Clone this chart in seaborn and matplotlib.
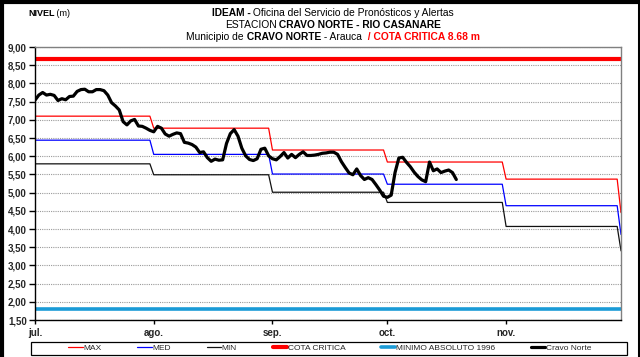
import matplotlib
matplotlib.use("Agg")
import matplotlib.pyplot as plt
from matplotlib.ticker import FuncFormatter, MultipleLocator
from matplotlib.patches import Rectangle
from matplotlib.lines import Line2D
import pandas as pd
import seaborn as sns

# ---- data -------------------------------------------------------------
month_labels = ["jul.", "ago.", "sep.", "oct.", "nov."]
level_dates = ["2010-07-01", "2010-08-01", "2010-09-01", "2010-10-01",
               "2010-11-01", "2010-12-01"]
max_level = [7.10, 6.77, 6.17, 5.84, 5.37, 4.45]
med_level = [6.44, 6.05, 5.51, 5.23, 4.64, 3.85]
min_level = [5.79, 5.49, 5.01, 4.73, 4.07, 3.40]
cota_critica = 8.68
minimo_1996 = 1.80

# daily stage at Cravo Norte (m), starting 1 July
cravo_norte = [
    7.54, 7.68, 7.75, 7.68, 7.70, 7.67, 7.53, 7.58, 7.55, 7.64,
    7.65, 7.78, 7.83, 7.84, 7.77, 7.77, 7.83, 7.83, 7.80, 7.68,
    7.47, 7.38, 7.27, 6.95, 6.86, 6.97, 7.01, 6.83, 6.82, 6.77,
    6.71, 6.67, 6.82, 6.77, 6.61, 6.55, 6.60, 6.64, 6.62, 6.38,
    6.36, 6.32, 6.25, 6.10, 6.12, 5.96, 5.86, 5.92, 5.89, 5.90,
    6.35, 6.62, 6.73, 6.55, 6.22, 6.01, 5.91, 5.88, 5.93, 6.19,
    6.22, 6.01, 5.93, 5.90, 5.99, 6.10, 5.95, 6.05, 5.96, 6.05,
    6.12, 6.02, 6.02, 6.03, 6.05, 6.08, 6.09, 6.11, 6.11, 6.05,
    5.85, 5.69, 5.54, 5.49, 5.65, 5.47, 5.36, 5.41, 5.36, 5.22,
    5.07, 4.90, 4.87, 4.93, 5.55, 5.95, 5.97, 5.83, 5.71, 5.56,
    5.44, 5.35, 5.30, 5.84, 5.60, 5.65, 5.55, 5.59, 5.62, 5.55,
    5.36,
]

# ---- frames -----------------------------------------------------------
days = pd.date_range(level_dates[0], level_dates[-1], freq="D")


def monthly_steps(levels):
    s = pd.Series(levels, index=pd.to_datetime(level_dates))
    return pd.DataFrame({"fecha": days,
                         "nivel": s.reindex(days, method="ffill").values})


df_max = monthly_steps(max_level)
df_med = monthly_steps(med_level)
df_min = monthly_steps(min_level)
df_obs = pd.DataFrame({"fecha": days[:len(cravo_norte)], "nivel": cravo_norte})

# ---- style ------------------------------------------------------------
sns.set_style("white")
plt.rcParams["font.family"] = ["Liberation Sans", "DejaVu Sans"]

fig = plt.figure(figsize=(6.4, 3.57), dpi=100)
ax = fig.add_axes([35 / 640, 1 - 320 / 357, 586 / 640, 273 / 357])

ax.yaxis.grid(True, color="#9a9a9a", linestyle=(0, (1, 1)), linewidth=0.8)
ax.set_axisbelow(True)

sns.lineplot(data=df_max, x="fecha", y="nivel", ax=ax, color="#ff0000",
             linewidth=0.9, label="MAX")
sns.lineplot(data=df_med, x="fecha", y="nivel", ax=ax, color="#0000ff",
             linewidth=0.9, label="MED")
sns.lineplot(data=df_min, x="fecha", y="nivel", ax=ax, color="#111111",
             linewidth=0.9, label="MIN")
ax.axhline(cota_critica, color="#ff0000", linewidth=3.0, label="COTA CRITICA")
ax.axhline(minimo_1996, color="#1a9bd7", linewidth=2.6,
           label="MINIMO ABSOLUTO 1996")
sns.lineplot(data=df_obs, x="fecha", y="nivel", ax=ax, color="black",
             linewidth=2.3, label="Cravo Norte", zorder=5)

ax.set_xlim(days[0], days[-1])
ax.set_ylim(1.5, 9.0)
ax.yaxis.set_major_locator(MultipleLocator(0.5))
ax.yaxis.set_major_formatter(FuncFormatter(lambda v, p: f"{v:.2f}".replace(".", ",")))
ax.set_xticks(pd.to_datetime(level_dates[:5]))
ax.set_xticklabels(month_labels)
ax.set_xlabel("")
ax.set_ylabel("")

ax.tick_params(axis="y", direction="out", length=4, width=1, color="black",
               labelsize=7, pad=2, left=True)
ax.tick_params(axis="x", direction="out", length=3, width=1, color="black",
               labelsize=7, pad=3, bottom=True)
for lbl in ax.get_xticklabels() + ax.get_yticklabels():
    lbl.set_fontweight("bold")

for side in ("left", "bottom"):
    ax.spines[side].set_color("black")
    ax.spines[side].set_linewidth(1.0)
for side in ("top", "right"):
    ax.spines[side].set_color("#808080")
    ax.spines[side].set_linewidth(1.0)

# ---- legend -----------------------------------------------------------
handles, labels = ax.get_legend_handles_labels()
ax.get_legend().remove()
fig.legend(handles, labels, ncol=6, loc="center",
           bbox_to_anchor=(330 / 640, 1 - 348 / 357),
           bbox_transform=fig.transFigure, frameon=False,
           prop={"size": 6}, handlelength=1.7, handletextpad=0.1,
           columnspacing=4.3)
fig.patches.append(Rectangle((31 / 640, 2 / 357), 596 / 640, 13.5 / 357,
                             transform=fig.transFigure, fill=False,
                             edgecolor="black", linewidth=0.9))

# ---- outer border -----------------------------------------------------
for xs, ys, lw in [([2 / 640, 2 / 640], [0, 1], 3.0),
                   ([0, 1], [1 - 2 / 357, 1 - 2 / 357], 3.0),
                   ([638.5 / 640, 638.5 / 640], [0, 1], 2.2)]:
    fig.lines.append(Line2D(xs, ys, transform=fig.transFigure,
                            color="black", linewidth=lw))

# ---- headings with mixed styles ---------------------------------------
fig.canvas.draw()
renderer = fig.canvas.get_renderer()


def rich_line(y_px, pieces, x_px, ha="center", size=7.4):
    arts = []
    for s, weight, color in pieces:
        arts.append(fig.text(0, 1 - y_px / 357, s, fontsize=size,
                             fontweight=weight, color=color,
                             va="center", ha="left"))
    widths = [a.get_window_extent(renderer).width for a in arts]
    start = x_px - sum(widths) / 2 if ha == "center" else x_px
    for a, w in zip(arts, widths):
        a.set_x(start / 640)
        start += w


rich_line(13, [("NIVEL", "bold", "black"), (" (m)", "normal", "black")],
          28, ha="left", size=6.5)
rich_line(13, [("IDEAM -", "bold", "black"),
               (" Oficina del Servicio de Pronósticos y Alertas", "normal", "black")],
          333)
rich_line(25, [("ESTACION", "normal", "black"),
               (" CRAVO NORTE - RIO CASANARE", "bold", "black")], 333)
rich_line(37, [("Municipio de", "normal", "black"),
               (" CRAVO NORTE", "bold", "black"),
               (" - Arauca", "normal", "black"),
               ("  / COTA CRITICA 8.68 m", "bold", "#ff0000")], 333)

fig.savefig("out.png", dpi=100)
